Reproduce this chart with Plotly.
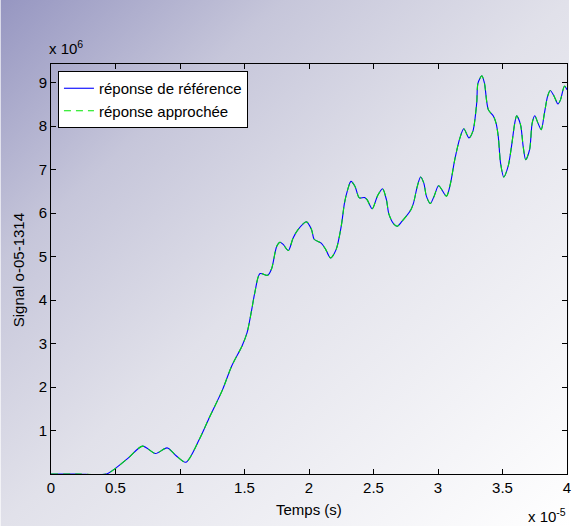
import base64
import plotly.graph_objects as go

# Time axis in units of 1e-5 s, signal in units of 1e6
temps = [
    0.00, 0.20, 0.43, 0.50, 0.60, 0.71, 0.81, 0.90, 0.97, 1.045,
    1.15, 1.22, 1.33, 1.40, 1.48, 1.52, 1.556, 1.58, 1.62, 1.68,
    1.71, 1.75, 1.775, 1.80, 1.84, 1.877, 1.915, 1.98, 2.02, 2.04,
    2.095, 2.13, 2.167, 2.21, 2.25, 2.275, 2.30, 2.325, 2.356, 2.39,
    2.43, 2.45, 2.49, 2.53, 2.57, 2.60, 2.62, 2.66, 2.685, 2.72,
    2.79, 2.81, 2.84, 2.865, 2.89, 2.91, 2.94, 2.97, 3.005, 3.065,
    3.095, 3.13, 3.17, 3.20, 3.24, 3.27, 3.30, 3.31, 3.34, 3.36,
    3.39, 3.43, 3.45, 3.467, 3.485, 3.51, 3.544, 3.57, 3.595, 3.61,
    3.64, 3.66, 3.68, 3.71, 3.73, 3.75, 3.775, 3.80, 3.825, 3.85,
    3.87, 3.90, 3.93, 3.95, 3.98, 4.00,
]
signal_ref = [
    0.00, 0.00, 0.00, 0.13, 0.37, 0.64, 0.47, 0.60, 0.42, 0.27,
    0.80, 1.25, 1.94, 2.48, 2.94, 3.25, 3.78, 4.17, 4.61, 4.57,
    4.72, 5.24, 5.33, 5.28, 5.14, 5.43, 5.62, 5.80, 5.62, 5.40,
    5.31, 5.16, 4.97, 5.16, 5.70, 6.23, 6.54, 6.73, 6.62, 6.35,
    6.36, 6.31, 6.10, 6.39, 6.56, 6.31, 5.97, 5.74, 5.70, 5.81,
    6.08, 6.23, 6.62, 6.83, 6.69, 6.39, 6.22, 6.39, 6.63, 6.39,
    6.66, 7.23, 7.73, 7.94, 7.73, 7.88, 8.53, 8.99, 9.16, 8.99,
    8.38, 8.23, 8.07, 7.77, 7.15, 6.83, 7.08, 7.54, 8.07, 8.24,
    8.03, 7.54, 7.23, 7.46, 8.07, 8.24, 8.07, 7.92, 8.30, 8.69,
    8.82, 8.69, 8.51, 8.61, 8.92, 8.84,
]
signal_approx = [
    0.00, 0.00, 0.00, 0.13, 0.37, 0.64, 0.47, 0.60, 0.42, 0.27,
    0.80, 1.25, 1.94, 2.48, 2.94, 3.25, 3.78, 4.17, 4.61, 4.57,
    4.72, 5.24, 5.33, 5.28, 5.14, 5.43, 5.62, 5.80, 5.62, 5.40,
    5.31, 5.16, 4.97, 5.16, 5.70, 6.23, 6.54, 6.73, 6.62, 6.35,
    6.36, 6.31, 6.10, 6.39, 6.56, 6.31, 5.97, 5.74, 5.70, 5.81,
    6.08, 6.23, 6.62, 6.83, 6.69, 6.39, 6.22, 6.39, 6.63, 6.39,
    6.66, 7.23, 7.73, 7.94, 7.73, 7.88, 8.53, 8.99, 9.16, 8.99,
    8.38, 8.23, 8.07, 7.77, 7.15, 6.83, 7.08, 7.54, 8.07, 8.24,
    8.03, 7.54, 7.23, 7.46, 8.07, 8.24, 8.07, 7.92, 8.30, 8.69,
    8.82, 8.69, 8.51, 8.61, 8.92, 8.84,
]
x_ticks = [0, 0.5, 1, 1.5, 2, 2.5, 3, 3.5, 4]
x_ticklabels = ["0", "0.5", "1", "1.5", "2", "2.5", "3", "3.5", "4"]
y_ticks = [1, 2, 3, 4, 5, 6, 7, 8, 9]
y_ticklabels = ["1", "2", "3", "4", "5", "6", "7", "8", "9"]

W, H = 573, 526
ML, MR, MT, MB = 51, 2, 64, 52
PW, PH = W - ML - MR, H - MT - MB
FONT = "Liberation Sans, Arial, Helvetica, sans-serif"


def px_x(px):
    return (px - ML) / PW


def px_y(py):
    return (H - MB - py) / PH


fig = go.Figure()
fig.add_trace(go.Scatter(
    x=temps, y=signal_ref, mode="lines", name="réponse de référence",
    line=dict(color="rgb(0,0,255)", width=1.1, shape="spline", smoothing=0.8),
))
fig.add_trace(go.Scatter(
    x=temps, y=signal_approx, mode="lines", name="réponse approchée",
    line=dict(color="rgb(0,230,0)", width=1.1, dash="7px,5px",
              shape="spline", smoothing=0.8),
))

# diagonal gradient backdrop for the figure
svg = (
    f'<svg xmlns="http://www.w3.org/2000/svg" width="{W}" height="{H}" '
    f'preserveAspectRatio="none"><defs><linearGradient id="g" x1="0" y1="0" '
    f'x2="1" y2="1"><stop offset="0" stop-color="#9696c1"/>'
    f'<stop offset="0.25" stop-color="#c6c6da"/>'
    f'<stop offset="0.5" stop-color="#e1e1ea"/>'
    f'<stop offset="1" stop-color="#ffffff"/></linearGradient></defs>'
    f'<rect width="{W}" height="{H}" fill="url(#g)"/></svg>'
)
bg_src = "data:image/svg+xml;base64," + base64.b64encode(svg.encode()).decode()

axis_common = dict(
    showline=True, linecolor="black", linewidth=1, mirror="ticks",
    ticks="inside", ticklen=5, tickwidth=1, tickcolor="black",
    showgrid=False, zeroline=False, ticklabeloverflow="allow",
    tickfont=dict(family=FONT, size=15, color="black"),
)

fig.update_layout(
    width=W, height=H,
    margin=dict(l=ML, r=MR, t=MT, b=MB, pad=0),
    paper_bgcolor="rgba(0,0,0,0)",
    plot_bgcolor="white",
    font=dict(family=FONT, size=15, color="black"),
    xaxis=dict(range=[0, 4], tickmode="array", tickvals=x_ticks,
               ticktext=x_ticklabels, **axis_common),
    yaxis=dict(range=[0, 9.43], tickmode="array", tickvals=y_ticks,
               ticktext=y_ticklabels, **axis_common),
    legend=dict(
        x=px_x(58), y=px_y(71), xanchor="left", yanchor="top",
        bgcolor="white", bordercolor="black", borderwidth=1,
        font=dict(family=FONT, size=15, color="black"),
        tracegroupgap=0,
    ),
    images=[dict(
        source=bg_src, xref="paper", yref="paper",
        x=-ML / PW, y=1 + MT / PH, sizex=W / PW, sizey=H / PH,
        xanchor="left", yanchor="top", sizing="stretch", layer="below",
    )],
    annotations=[
        dict(text="Temps (s)", xref="paper", yref="paper",
             x=px_x(311), y=px_y(509), xanchor="center", yanchor="middle",
             showarrow=False, font=dict(family=FONT, size=15)),
        dict(text="Signal o-05-1314", xref="paper", yref="paper",
             x=px_x(18), y=px_y(270), xanchor="center", yanchor="middle",
             textangle=-90, showarrow=False, font=dict(family=FONT, size=15)),
        dict(text="x 10<sup>6</sup>", xref="paper", yref="paper",
             x=px_x(47), y=px_y(48), xanchor="left", yanchor="middle",
             showarrow=False, font=dict(family=FONT, size=15)),
        dict(text="x 10<sup>-5</sup>", xref="paper", yref="paper",
             x=px_x(530), y=px_y(515), xanchor="left", yanchor="middle",
             showarrow=False, font=dict(family=FONT, size=15)),
    ],
)

fig.write_html("out.html")
